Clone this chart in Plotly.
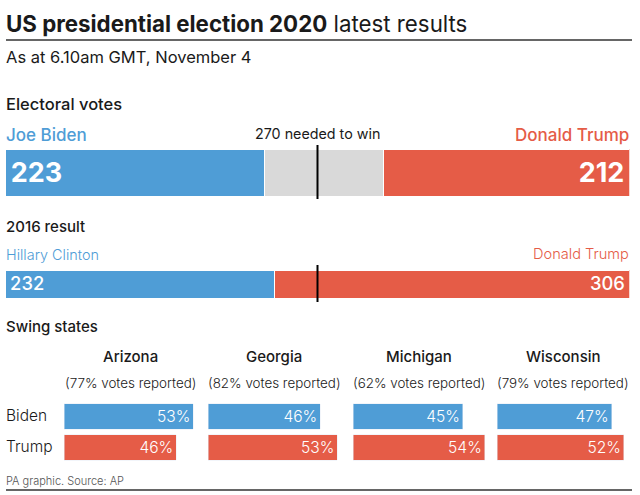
import plotly.graph_objects as go

# ----- data -----
SEATS = 538
WIN_LINE = 269
candidates_2020 = ["Joe Biden", "Donald Trump"]
votes_2020 = [223, 212]
votes_undecided = [103]
candidates_2016 = ["Hillary Clinton", "Donald Trump"]
votes_2016 = [232, 306]
states = ["Arizona", "Georgia", "Michigan", "Wisconsin"]
reported = [77, 82, 62, 79]
swing_labels = ["Biden", "Trump"]
biden_pct = [53, 46, 45, 47]
trump_pct = [46, 53, 54, 52]

BLUE = "#4f9dd6"
RED = "#e55c47"
GREY = "#d9d9d9"
INK = "#1a1a1a"
FONT = "Inter"
W, H = 640, 495
HAIR = "\u200a"


def px_x(a):
    return a / W


def px_y(a):
    return 1 - a / H


fig = go.Figure()


def add_axes(n, x0, x1, y0, y1, xrange, yrange):
    xname = "xaxis" if n == 1 else f"xaxis{n}"
    yname = "yaxis" if n == 1 else f"yaxis{n}"
    fig.update_layout({
        xname: dict(domain=[px_x(x0), px_x(x1)], range=xrange, visible=False,
                    anchor=f"y{n}" if n > 1 else "y", fixedrange=True),
        yname: dict(domain=[px_y(y1), px_y(y0)], range=yrange, visible=False,
                    anchor=f"x{n}" if n > 1 else "x", fixedrange=True,
                    type="category" if n > 2 else "linear"),
    })


def add_stack(n, row, values, colors, texts, size, weight):
    # one row of stacked segments, labels hug the outer ends
    anchors = ["start", "middle", "end"] if len(values) == 3 else ["start", "end"]
    for v, c, t, anc in zip(values, colors, texts, anchors):
        fig.add_trace(go.Bar(
            x=[v], y=[row], orientation="h", width=1, marker=dict(color=c, line=dict(color="white", width=1)),
            text=[t], textposition="inside", insidetextanchor=anc, textangle=0, cliponaxis=False,
            insidetextfont=dict(family=FONT, size=size, color="white", weight=weight),
            hoverinfo="skip", showlegend=False,
            xaxis="x" if n == 1 else f"x{n}", yaxis="y" if n == 1 else f"y{n}"))


add_axes(1, 5.5, 629.5, 149, 196, [0, SEATS], [-0.5, 0.5])
add_stack(1, 0, [votes_2020[0], votes_undecided[0], votes_2020[1]], [BLUE, GREY, RED],
          [HAIR + str(votes_2020[0]), "", str(votes_2020[1]) + HAIR], 27, 700)

add_axes(2, 5.5, 629.5, 270, 298, [0, SEATS], [-0.5, 0.5])
add_stack(2, 0, votes_2016, [BLUE, RED], [HAIR + str(votes_2016[0]), str(votes_2016[1]) + HAIR], 20, 500)

# swing state panels, 2.44px for each percentage point
panel_left = [64, 208, 353, 497]
for i, state in enumerate(states):
    n = i + 3
    add_axes(n, panel_left[i], panel_left[i] + 134.2, 401, 463, [0, 55], [1.5, -0.5])
    vals = [biden_pct[i], trump_pct[i]]
    fig.add_trace(go.Bar(
        x=vals, y=swing_labels, orientation="h", width=0.83, marker=dict(color=[BLUE, RED]),
        text=[f"{v}%" for v in vals], textposition="inside", insidetextanchor="end", textangle=0,
        insidetextfont=dict(family=FONT, size=15.6, color="white", weight=300),
        hoverinfo="skip", showlegend=False, xaxis=f"x{n}", yaxis=f"y{n}"))


def label(x, y, text, size, color=INK, anchor="left", weight=400):
    fig.add_annotation(x=px_x(x), y=px_y(y), xref="paper", yref="paper", text=text, showarrow=False,
                       xanchor=anchor, yanchor="middle", align=anchor,
                       font=dict(family=FONT, size=size, color=color, weight=weight))


label(4, 24, "<b>US presidential election 2020</b> latest results", 22.3)
label(4, 57, "As at 6.10am GMT, November 4", 16.5)
label(4, 104, "Electoral votes", 16.5, weight=500)
label(4, 135, candidates_2020[0], 17, BLUE, weight=500)
label(631, 135, candidates_2020[1], 17, RED, "right", 500)
label(317, 134, f"{WIN_LINE + 1} needed to win", 14.3, anchor="center")
label(4, 226, "2016 result", 15, weight=500)
label(4, 254, candidates_2016[0], 14.4, BLUE, weight=300)
label(631, 254, candidates_2016[1], 14.6, RED, "right", 300)
label(4, 326, "Swing states", 15, weight=500)
for i, state in enumerate(states):
    mid = panel_left[i] + 66
    label(mid, 356, state, 15, anchor="center", weight=500)
    label(mid, 383, f"({reported[i]}% votes reported)", 13.4, anchor="center", weight=300)
label(4, 415, swing_labels[0], 15.5, weight=300)
label(4, 446, swing_labels[1], 15.5, weight=300)
label(4, 481, "PA graphic. Source: AP", 11, "#555555", weight=300)

# rules and the 270 marker
for y in [40, 490]:
    fig.add_shape(type="line", xref="paper", yref="paper", x0=px_x(6), x1=px_x(632), y0=px_y(y), y1=px_y(y),
                  line=dict(color="#333333", width=1.5))
fig.add_shape(type="line", xref="x", yref="paper", x0=WIN_LINE, x1=WIN_LINE, y0=px_y(199), y1=px_y(145),
              line=dict(color="black", width=2))
fig.add_shape(type="line", xref="x2", yref="paper", x0=WIN_LINE, x1=WIN_LINE, y0=px_y(302), y1=px_y(265),
              line=dict(color="black", width=2))

fig.update_layout(width=W, height=H, margin=dict(l=0, r=0, t=0, b=0), barmode="stack",
                  paper_bgcolor="white", plot_bgcolor="white", showlegend=False)
fig.write_html("out.html", config=dict(displayModeBar=False),
               post_script="document.body.style.margin='0';")
